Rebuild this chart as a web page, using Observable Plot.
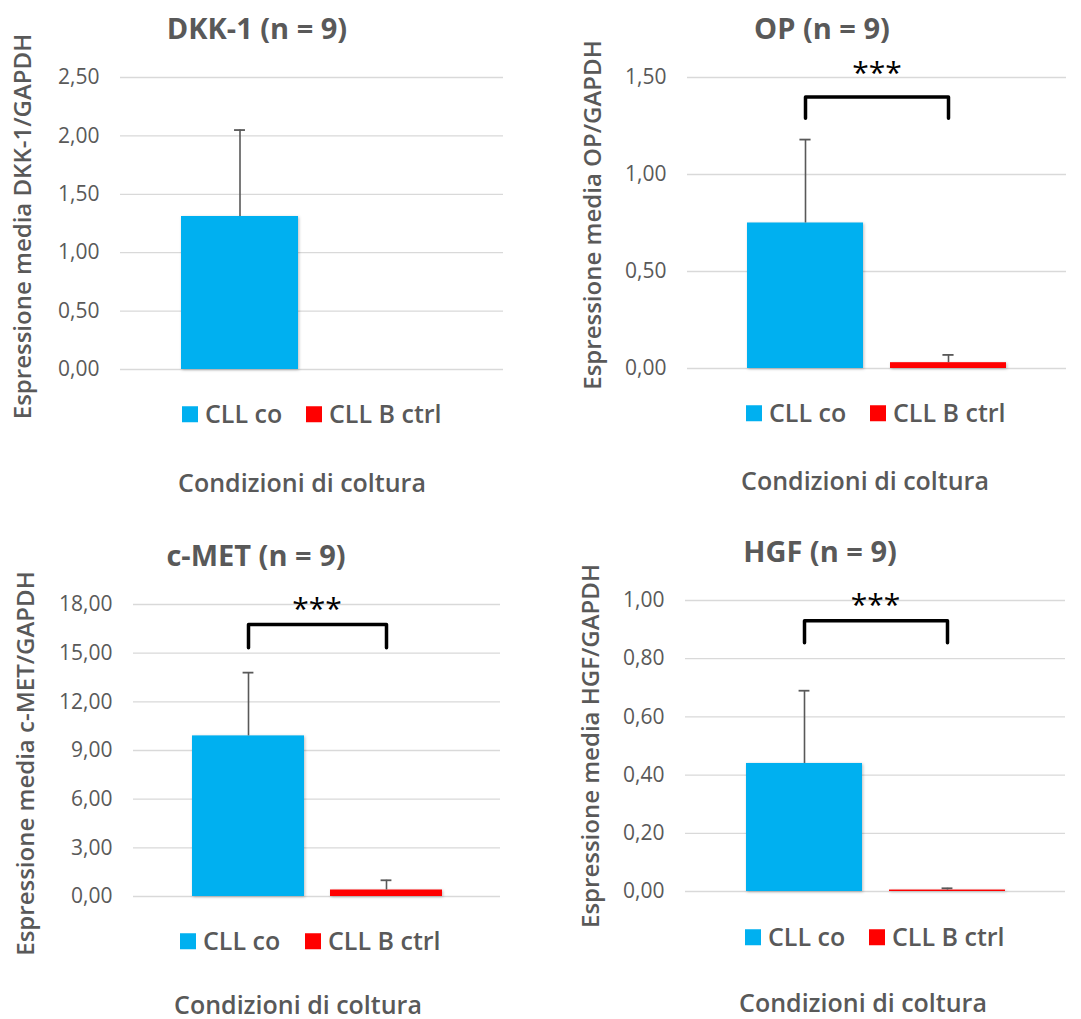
<!DOCTYPE html>
<html>
<head>
<meta charset="utf-8">
<script src="https://cdn.jsdelivr.net/npm/d3@7"></script>
<script src="https://cdn.jsdelivr.net/npm/@observablehq/plot@0.6"></script>
<style>
  body { margin: 0; background: #fff; }
  #root { position: relative; width: 1081px; height: 1019px; overflow: hidden; font-family: "Open Sans", sans-serif; color: #595959; }
  .panel-svg { position: absolute; }
  .title { position: absolute; font-weight: 700; font-size: 29px; line-height: 1.1; transform: translate(-50%, -50%); white-space: nowrap; }
  .xlab { position: absolute; font-weight: 600; font-size: 25px; line-height: 1; transform: translate(-50%, -50%); white-space: nowrap; }
  .leg { position: absolute; display: flex; align-items: center; font-weight: 600; font-size: 25px; line-height: 1.1; white-space: nowrap; transform: translateY(-50%); }
  .sw { display: inline-block; width: 16px; height: 16px; margin-right: 7px; }
</style>
</head>
<body>
<div id="root"></div>
<script>
// ---- data ----
const genes = ["DKK-1", "OP", "c-MET", "HGF"];
const sampleSize = [9, 9, 9, 9];
const seriesNames = ["CLL co", "CLL B ctrl"];
const seriesColors = ["#00B0F0", "#FF0000"];
const meanCLLco = [1.31, 0.75, 9.90, 0.44];
const errCLLco = [0.74, 0.43, 3.90, 0.25];
const meanCLLBctrl = [null, 0.03, 0.40, 0.005];
const errCLLBctrl = [null, 0.04, 0.60, 0.006];
const yMax = [2.5, 1.5, 18, 1.0];
const yStep = [0.5, 0.5, 3, 0.2];
const yLabels = ["Espressione media DKK-1/GAPDH", "Espressione media OP/GAPDH", "Espressione media c-MET/GAPDH", "Espressione media HGF/GAPDH"];
const xLabel = "Condizioni di coltura";
const sigLabel = [null, "***", "***", "***"];
const bracketTop = [null, 1.40, 16.77, 0.93];
const bracketFoot = [null, 1.29, 15.34, 0.855];

// ---- layout (pixels) ----
const layout = [
  {left: 0,   top: 0,   w: 540, ml: 120, mr: 37, mt: 77, mb: 31, ylabX: 22.5, ylabDy: 3,  title: [257, 28],  legend: [182, 306, 414], xlab: [302, 482], starDy: -24},
  {left: 540, top: 0,   w: 541, ml: 147, mr: 15, mt: 77, mb: 32, ylabX: 53,   ylabDy: -8, title: [822, 28],  legend: [746, 870, 413], xlab: [865, 480], starDy: -24},
  {left: 0,   top: 510, w: 540, ml: 133, mr: 40, mt: 94, mb: 14, ylabX: 26,   ylabDy: 13, title: [256, 555], legend: [180, 305, 941], xlab: [298, 1004], starDy: -15},
  {left: 540, top: 510, w: 541, ml: 145, mr: 16, mt: 90, mb: 19, ylabX: 51,   ylabDy: 0,  title: [820, 551], legend: [745, 869, 937], xlab: [863, 1002], starDy: -15}
];
const H = 400;
const padInner = 0.19, padOuter = 0.42;

const locale = d3.formatLocale({decimal: ",", thousands: ".", grouping: [3], currency: ["", "€"]});
const fmt = locale.format(".2f");

const root = document.getElementById("root");

genes.forEach((gene, i) => {
  const L = layout[i];
  const rows = [
    {series: seriesNames[0], mean: meanCLLco[i], hi: meanCLLco[i] + errCLLco[i]},
    {series: seriesNames[1], mean: meanCLLBctrl[i], hi: meanCLLBctrl[i] == null ? null : meanCLLBctrl[i] + errCLLBctrl[i]}
  ].filter(d => d.mean != null);
  const ticks = d3.range(0, Math.round(yMax[i] / yStep[i]) + 1).map(k => +(k * yStep[i]).toFixed(4));
  const innerW = L.w - L.ml - L.mr;
  const step = innerW / (2 - padInner + 2 * padOuter);
  const bw = step * (1 - padInner);
  const capInset = bw / 2 - 5.5;

  const marks = [
    Plot.gridY(ticks, {stroke: "#D9D9D9", strokeOpacity: 1, strokeWidth: 1.3}),
    Plot.axisY(ticks, {tickSize: 0, tickPadding: 21, tickFormat: fmt, label: null, fontSize: 21}),
    Plot.barY(rows, {x: "series", y: "mean", fill: "series"}),
    Plot.ruleX(rows, {x: "series", y1: "mean", y2: "hi", stroke: "#595959", strokeWidth: 1.6}),
    Plot.tickY(rows, {x: "series", y: "hi", stroke: "#595959", strokeWidth: 1.8, insetLeft: capInset, insetRight: capInset}),
    Plot.text([yLabels[i]], {frameAnchor: "left", textAnchor: "middle", rotate: -90, dx: L.ylabX - L.ml, dy: L.ylabDy, text: d => d, fontSize: 24, fontWeight: 600, fill: "#595959"})
  ];
  if (sigLabel[i]) {
    const bracket = [
      {series: seriesNames[0], y: bracketFoot[i]},
      {series: seriesNames[0], y: bracketTop[i]},
      {series: seriesNames[1], y: bracketTop[i]},
      {series: seriesNames[1], y: bracketFoot[i]}
    ];
    marks.push(Plot.line(bracket, {x: "series", y: "y", stroke: "#000", strokeWidth: 3.5, strokeLinejoin: "round"}));
    marks.push(Plot.text([{y: bracketTop[i], label: sigLabel[i]}], {frameAnchor: "middle", y: "y", text: "label", dy: L.starDy, fontSize: 30, fill: "#000"}));
  }

  const svg = Plot.plot({
    width: L.w, height: H,
    marginLeft: L.ml, marginRight: L.mr, marginTop: L.mt, marginBottom: L.mb,
    style: {fontFamily: "'Open Sans', sans-serif", color: "#595959", background: "transparent", overflow: "visible"},
    x: {domain: seriesNames, paddingInner: padInner, paddingOuter: padOuter, axis: null},
    y: {domain: [0, yMax[i]]},
    color: {domain: seriesNames, range: seriesColors},
    marks
  });
  svg.classList.add("panel-svg");
  svg.style.left = L.left + "px";
  svg.style.top = L.top + "px";
  svg.querySelectorAll('g[aria-label="bar"] rect').forEach(r => r.style.filter = "drop-shadow(1px 1px 1.5px rgba(0,0,0,0.25))");
  root.appendChild(svg);

  const t = document.createElement("div");
  t.className = "title";
  t.textContent = `${gene} (n = ${sampleSize[i]})`;
  t.style.left = L.title[0] + "px"; t.style.top = L.title[1] + "px";
  root.appendChild(t);

  seriesNames.forEach((s, j) => {
    const lg = document.createElement("div");
    lg.className = "leg";
    lg.style.left = L.legend[j] + "px"; lg.style.top = L.legend[2] + "px";
    const sw = document.createElement("span");
    sw.className = "sw"; sw.style.background = seriesColors[j];
    lg.appendChild(sw);
    lg.appendChild(document.createTextNode(s));
    root.appendChild(lg);
  });

  const xl = document.createElement("div");
  xl.className = "xlab";
  xl.textContent = xLabel;
  xl.style.left = L.xlab[0] + "px"; xl.style.top = L.xlab[1] + "px";
  root.appendChild(xl);
});
</script>
</body>
</html>
